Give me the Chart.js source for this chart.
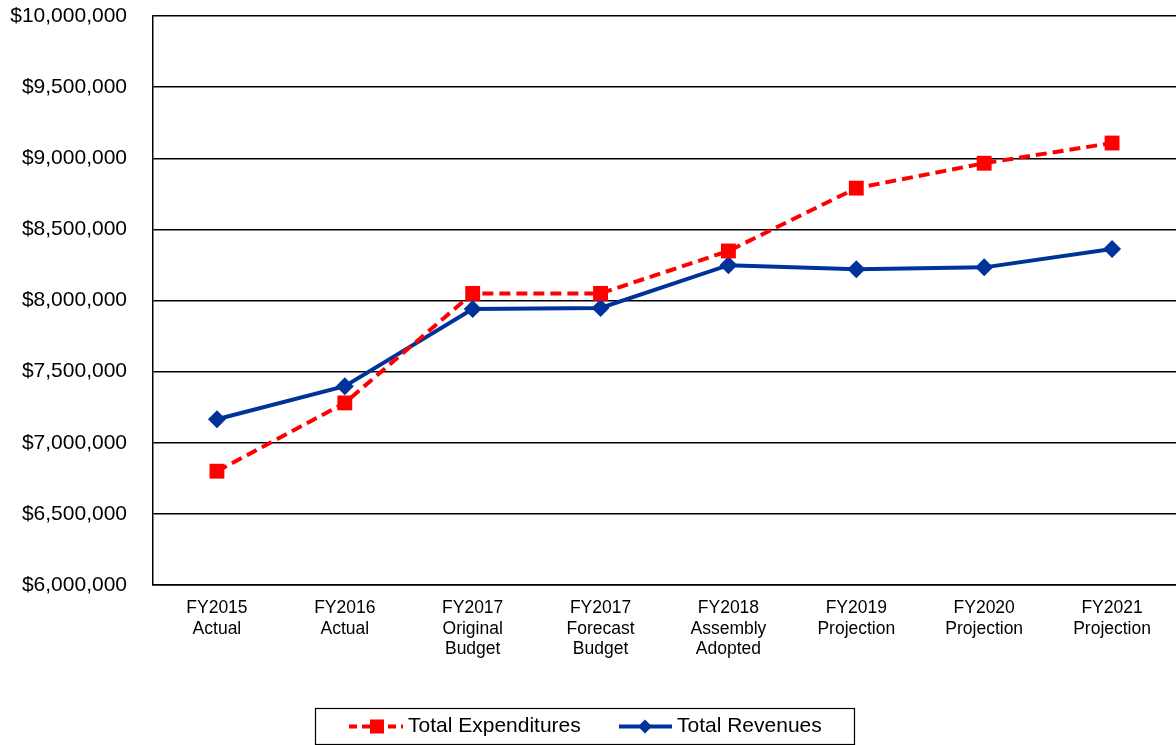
<!DOCTYPE html>
<html><head><meta charset="utf-8">
<script src="https://cdn.jsdelivr.net/npm/chart.js@4.4.1/dist/chart.umd.min.js"></script>
<style>html,body{margin:0;padding:0;background:#fff}#wrap{width:1176px;height:745px}</style>
</head><body><div id="wrap"><canvas id="c" width="1176" height="745"></canvas></div>
<script>
const categories = [
  ["FY2015","Actual"],["FY2016","Actual"],["FY2017","Original","Budget"],["FY2017","Forecast","Budget"],
  ["FY2018","Assembly","Adopted"],["FY2019","Projection"],["FY2020","Projection"],["FY2021","Projection"]
];
const totalExpenditures = [6800000, 7280000, 8050000, 8050000, 8348000, 8790000, 8965000, 9107000];
const totalRevenues = [7165000, 7398000, 7940000, 7948000, 8248000, 8220000, 8233000, 8362000];
const seriesNames = ["Total Expenditures", "Total Revenues"];
const yMin = 6000000, yMax = 10000000, yStep = 500000;

const FONT = '"Liberation Sans", Arial, sans-serif';
const RED = '#FF0000', BLUE = '#003399';

const legendPlugin = {
  id: 'customLegend',
  afterDraw(chart) {
    const ctx = chart.ctx;
    ctx.save();
    ctx.strokeStyle = '#000';
    ctx.lineWidth = 1.2;
    ctx.strokeRect(315.5, 708.5, 539, 36);
    const cy = 726.5;
    ctx.strokeStyle = RED; ctx.lineWidth = 4; ctx.setLineDash([8,5]);
    ctx.beginPath(); ctx.moveTo(349, cy); ctx.lineTo(403, cy); ctx.stroke();
    ctx.setLineDash([]);
    ctx.fillStyle = RED; ctx.fillRect(370, cy-7, 14, 14);
    ctx.strokeStyle = BLUE; ctx.lineWidth = 4;
    ctx.beginPath(); ctx.moveTo(619, cy); ctx.lineTo(672, cy); ctx.stroke();
    ctx.fillStyle = BLUE; ctx.beginPath();
    ctx.moveTo(645, cy-7); ctx.lineTo(652, cy); ctx.lineTo(645, cy+7); ctx.lineTo(638, cy); ctx.closePath(); ctx.fill();
    ctx.fillStyle = '#000'; ctx.font = '21px ' + FONT; ctx.textBaseline = 'middle'; ctx.textAlign = 'left';
    ctx.fillText(seriesNames[0], 408, cy);
    ctx.fillText(seriesNames[1], 677, cy);
    ctx.restore();
  }
};

function zeroPad(s) { s.paddingTop = 0; s.paddingBottom = 0; s.paddingLeft = 0; s.paddingRight = 0; }

new Chart(document.getElementById('c'), {
  type: 'line',
  data: {
    labels: categories,
    datasets: [
      { label: seriesNames[0], data: totalExpenditures, borderColor: RED, backgroundColor: RED,
        borderWidth: 4, borderDash: [11,6], pointStyle: 'rect', pointRadius: 10.5, pointHoverRadius: 10.5,
        pointBorderWidth: 0, tension: 0, fill: false, clip: false },
      { label: seriesNames[1], data: totalRevenues, borderColor: BLUE, backgroundColor: BLUE,
        borderWidth: 4, pointStyle: 'rectRot', pointRadius: 9, pointHoverRadius: 9,
        pointBorderWidth: 0, tension: 0, fill: false, clip: false }
    ]
  },
  options: {
    responsive: false, animation: false,
    layout: { autoPadding: false, padding: { top: 16, right: 0, bottom: 0, left: 0 } },
    plugins: { legend: { display: false }, tooltip: { enabled: false } },
    scales: {
      x: {
        offset: true,
        grid: { display: false, drawTicks: false },
        border: { display: true, color: '#000', width: 1.5 },
        ticks: { color: '#000', font: { family: FONT, size: 17.5, lineHeight: 1.18 }, padding: 13, maxRotation: 0, autoSkip: false },
        afterFit(s) { s.height = 160; zeroPad(s); }
      },
      y: {
        min: yMin, max: yMax,
        grid: { color: '#000', lineWidth: 1.5, drawTicks: false },
        border: { display: true, color: '#000', width: 1.5 },
        ticks: { stepSize: yStep, color: '#000', padding: 26, font: { family: FONT, size: 21 },
          callback: v => '$' + Number(v).toLocaleString('en-US') },
        afterFit(s) { s.width = 153; zeroPad(s); }
      }
    }
  },
  plugins: [legendPlugin]
});
</script></body></html>
